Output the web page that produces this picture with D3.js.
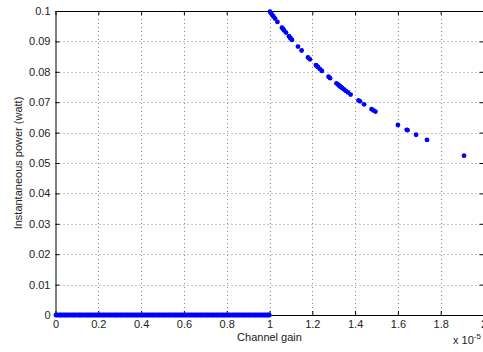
<!DOCTYPE html>
<html>
<head>
<meta charset="utf-8">
<script src="https://cdn.jsdelivr.net/npm/d3@7"></script>
<style>
  html, body { margin: 0; padding: 0; background: #fff; }
  svg { display: block; font-family: "Liberation Sans", Arial, Helvetica, sans-serif; }
</style>
</head>
<body>
<svg id="chart" width="483" height="352"></svg>
<script>
// Channel gain (x 1e-5) and instantaneous transmit power (watt)
const xTicks = [0, 0.2, 0.4, 0.6, 0.8, 1, 1.2, 1.4, 1.6, 1.8, 2];
const xTickLabels = ["0", "0.2", "0.4", "0.6", "0.8", "1", "1.2", "1.4", "1.6", "1.8", "2"];
const yTicks = [0, 0.01, 0.02, 0.03, 0.04, 0.05, 0.06, 0.07, 0.08, 0.09, 0.1];
const yTickLabels = ["0", "0.01", "0.02", "0.03", "0.04", "0.05", "0.06", "0.07", "0.08", "0.09", "0.1"];

// Users below the gain threshold: no power allocated
const offGain = [0.003, 0.012, 0.021, 0.028, 0.037, 0.045, 0.052, 0.061, 0.069, 0.078,
  0.086, 0.094, 0.103, 0.111, 0.118, 0.127, 0.135, 0.144, 0.152, 0.159, 0.168, 0.176,
  0.185, 0.193, 0.201, 0.209, 0.218, 0.226, 0.234, 0.243, 0.251, 0.259, 0.268, 0.276,
  0.284, 0.292, 0.301, 0.309, 0.317, 0.326, 0.334, 0.342, 0.351, 0.359, 0.367, 0.376,
  0.384, 0.392, 0.401, 0.409, 0.417, 0.426, 0.434, 0.442, 0.451, 0.459, 0.467, 0.476,
  0.484, 0.492, 0.501, 0.509, 0.517, 0.526, 0.534, 0.542, 0.551, 0.559, 0.567, 0.576,
  0.584, 0.592, 0.601, 0.609, 0.617, 0.626, 0.634, 0.642, 0.651, 0.659, 0.667, 0.676,
  0.684, 0.692, 0.701, 0.709, 0.717, 0.726, 0.734, 0.742, 0.751, 0.759, 0.767, 0.776,
  0.784, 0.792, 0.801, 0.809, 0.817, 0.826, 0.834, 0.842, 0.851, 0.859, 0.867, 0.876,
  0.884, 0.892, 0.901, 0.909, 0.917, 0.926, 0.934, 0.942, 0.951, 0.959, 0.967, 0.976,
  0.984, 0.992, 0.998];
const offPower = [0, 0, 0, 0, 0, 0, 0, 0, 0, 0,
  0, 0, 0, 0, 0, 0, 0, 0, 0, 0, 0, 0,
  0, 0, 0, 0, 0, 0, 0, 0, 0, 0, 0, 0,
  0, 0, 0, 0, 0, 0, 0, 0, 0, 0, 0, 0,
  0, 0, 0, 0, 0, 0, 0, 0, 0, 0, 0, 0,
  0, 0, 0, 0, 0, 0, 0, 0, 0, 0, 0, 0,
  0, 0, 0, 0, 0, 0, 0, 0, 0, 0, 0, 0,
  0, 0, 0, 0, 0, 0, 0, 0, 0, 0, 0, 0,
  0, 0, 0, 0, 0, 0, 0, 0, 0, 0, 0, 0,
  0, 0, 0, 0, 0, 0, 0, 0, 0, 0, 0, 0,
  0, 0, 0];

// Users above the threshold: channel-inversion power
const onGain = [1.002, 1.006, 1.012, 1.018, 1.026, 1.037, 1.058, 1.063, 1.068, 1.077,
  1.091, 1.096, 1.100, 1.105, 1.133, 1.150, 1.180, 1.189, 1.217, 1.222, 1.227, 1.236,
  1.245, 1.276, 1.283, 1.313, 1.320, 1.325, 1.329, 1.334, 1.339, 1.348, 1.357, 1.367,
  1.379, 1.416, 1.423, 1.442, 1.477, 1.486, 1.495, 1.600, 1.641, 1.645, 1.685, 1.736,
  1.909];
const onPower = [0.0998, 0.0994, 0.0988, 0.0982, 0.0975, 0.0964, 0.0945, 0.0941, 0.0936, 0.0929,
  0.0917, 0.0912, 0.0909, 0.0905, 0.0883, 0.0870, 0.0847, 0.0841, 0.0822, 0.0818, 0.0815, 0.0809,
  0.0803, 0.0784, 0.0779, 0.0762, 0.0758, 0.0755, 0.0752, 0.0750, 0.0747, 0.0742, 0.0737, 0.0732,
  0.0725, 0.0706, 0.0703, 0.0693, 0.0677, 0.0673, 0.0669, 0.0625, 0.0609, 0.0608, 0.0593, 0.0576,
  0.0524];

const svg = d3.select("#chart");
const W = 483, H = 352;
const padL = 55.5, padR = 483.5, padT = 11, padB = 315;

const x = d3.scaleLinear().domain([0, 2]).range([padL, padR]);
const y = d3.scaleLinear().domain([0, 0.1]).range([padB, padT]);

svg.append("rect").attr("width", W).attr("height", H).attr("fill", "#fff");

// dotted grid
const grid = svg.append("g").attr("stroke", "#8a8a8a").attr("stroke-width", 1)
  .attr("stroke-dasharray", "1 3");
grid.selectAll(".gx").data(xTicks.slice(1, -1)).join("line")
  .attr("x1", d => Math.round(x(d)) + 0.5).attr("x2", d => Math.round(x(d)) + 0.5)
  .attr("y1", padT).attr("y2", padB);
grid.selectAll(".gy").data(yTicks.slice(1, -1)).join("line")
  .attr("y1", d => Math.round(y(d)) + 0.5).attr("y2", d => Math.round(y(d)) + 0.5)
  .attr("x1", padL).attr("x2", padR);

// axes with inward ticks on all four sides
const fmtX = (d, i) => xTickLabels[i];
const fmtY = (d, i) => yTickLabels[i];
const axB = svg.append("g").attr("transform", `translate(0,${padB})`)
  .call(d3.axisBottom(x).tickValues(xTicks).tickFormat(fmtX).tickSizeInner(-4).tickSizeOuter(0).tickPadding(5));
const axT = svg.append("g").attr("transform", `translate(0,${padT})`)
  .call(d3.axisTop(x).tickValues(xTicks).tickFormat("").tickSizeInner(-4).tickSizeOuter(0));
const axL = svg.append("g").attr("transform", `translate(${padL},0)`)
  .call(d3.axisLeft(y).tickValues(yTicks).tickFormat(fmtY).tickSizeInner(-4).tickSizeOuter(0).tickPadding(5));
const axR = svg.append("g").attr("transform", `translate(${padR},0)`)
  .call(d3.axisRight(y).tickValues(yTicks).tickFormat("").tickSizeInner(-4).tickSizeOuter(0));
[axB, axT, axL, axR].forEach(g => {
  g.selectAll("path").attr("stroke", "#000").attr("stroke-width", 1);
  g.selectAll("line").attr("stroke", "#000");
  g.selectAll("text").attr("fill", "#222").attr("font-size", 11)
    .attr("font-family", "Liberation Sans, Arial, sans-serif");
});

// data markers
const dots = svg.append("g").attr("fill", "#0000ff");
dots.selectAll(".off").data(offGain.map((g, i) => [g, offPower[i]])).join("circle")
  .attr("cx", d => x(d[0])).attr("cy", d => y(d[1])).attr("r", 2.5);
dots.selectAll(".on").data(onGain.map((g, i) => [g, onPower[i]])).join("circle")
  .attr("cx", d => x(d[0])).attr("cy", d => y(d[1])).attr("r", 2.4);

// labels
svg.append("text").attr("x", (padL + padR) / 2).attr("y", 341)
  .attr("text-anchor", "middle").attr("font-size", 11).attr("fill", "#222")
  .text("Channel gain");
svg.append("text").attr("transform", `translate(22,${(padT + padB) / 2}) rotate(-90)`)
  .attr("text-anchor", "middle").attr("font-size", 11).attr("fill", "#222")
  .text("Instantaneous power (watt)");
const ex = svg.append("text").attr("x", 453).attr("y", 344).attr("font-size", 11).attr("fill", "#222");
ex.append("tspan").text("x 10");
ex.append("tspan").attr("dy", -5).attr("font-size", 8).text("-5");
</script>
</body>
</html>
